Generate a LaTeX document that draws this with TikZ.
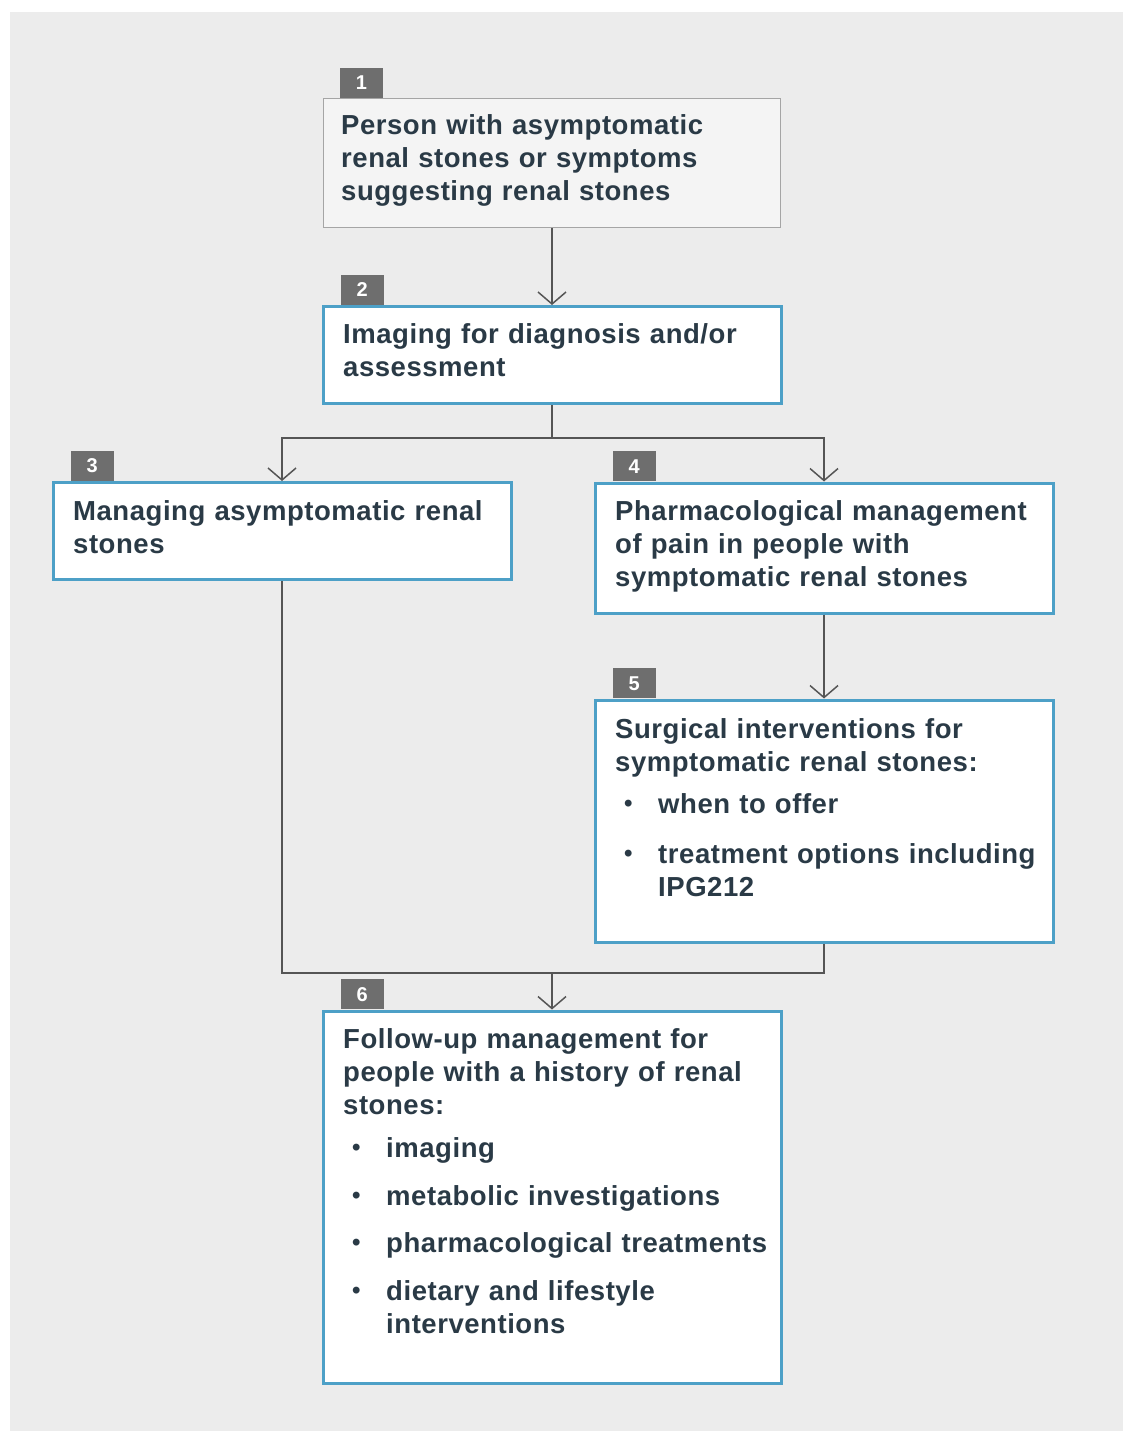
\documentclass[tikz,border=0pt]{standalone}
\usepackage{fontspec}
\usepackage{tikz}
\usepackage{xcolor}
\usetikzlibrary{arrows.meta,positioning}
\setmainfont{Liberation Sans}[WordSpace=1.6,LetterSpace=2.0]

\definecolor{pagegray}{RGB}{236,236,236}
\definecolor{boxblue}{RGB}{77,160,199}
\definecolor{linegray}{RGB}{85,85,85}
\definecolor{badgegray}{RGB}{110,110,110}
\definecolor{textdark}{RGB}{42,58,70}
\definecolor{startfill}{RGB}{244,244,244}
\definecolor{startdraw}{RGB}{165,165,165}

\newcommand{\itm}{\makebox[43pt][l]{\hspace{9pt}\raisebox{2pt}{\fontsize{24}{24}\selectfont\textbullet}}}
\newcommand{\ind}{\hspace*{43pt}}

\begin{document}
\begin{tikzpicture}[x=1pt,y=-1pt]
	\useasboundingbox (0,0) rectangle (1123,1431);
	\fill[pagegray] (10,12) rectangle (1123,1431);
	\tikzstyle{box}=[draw=boxblue,line width=3pt,fill=white,inner sep=0pt]
	\tikzstyle{startbox}=[draw=startdraw,line width=1.5pt,fill=startfill,inner sep=0pt]
	\tikzstyle{badge}=[fill=badgegray,text=white,font=\fontsize{20}{20}\selectfont\bfseries,minimum width=43pt,minimum height=30pt,inner sep=0pt]
	\tikzstyle{txt}=[anchor=base west,text width=450pt,align=left,inner sep=0pt,text=textdark,font=\fontsize{27.5}{33}\selectfont\bfseries]
	\tikzstyle{link}=[draw=linegray,line width=1.5pt]
	\tikzstyle{arrow}=[link,-{Straight Barb[length=12pt,width=28pt]}]

	% boxes
	\node[startbox,minimum width=457pt,minimum height=129pt] (b1) at (552,163) {};
	\node[box,minimum width=458pt,minimum height=97pt] (b2) at (552,355) {};
	\node[box,minimum width=458pt,minimum height=97pt] (b3) at (282,531) {};
	\node[box,minimum width=458pt,minimum height=130pt] (b4) at (824,548) {};
	\node[box,minimum width=458pt,minimum height=242pt] (b5) at (824,821) {};
	\node[box,minimum width=458pt,minimum height=372pt] (b6) at (552,1197) {};

	% numbers
	\node[badge,above right=0pt and 17pt of b1.north west] (n1) {1};
	\node[badge,above right=0pt and 19pt of b2.north west] (n2) {2};
	\node[badge,above right=0pt and 19pt of b3.north west] (n3) {3};
	\node[badge,above right=0pt and 19pt of b4.north west] (n4) {4};
	\node[badge,above right=0pt and 19pt of b5.north west] (n5) {5};
	\node[badge,above right=0pt and 19pt of b6.north west] (n6) {6};

	% texts
	\node[txt] (t1) at (341,135) {Person with asymptomatic\\renal stones or symptoms\\suggesting renal stones};
	\node[txt] (t2) at (343,343) {Imaging for diagnosis and/or\\assessment};
	\node[txt] (t3) at (73,520) {Managing asymptomatic renal\\stones};
	\node[txt] (t4) at (615,520) {Pharmacological management\\of pain in people with\\symptomatic renal stones};
	\node[txt] (t5) at (615,738) {Surgical interventions for\\symptomatic renal stones:\\[9pt]\itm when to offer\\[17pt]\itm treatment options including\\\ind IPG212};
	\node[txt] (t6) at (343,1048) {Follow-up management for\\people with a history of renal\\stones:\\[10pt]\itm imaging\\[15pt]\itm metabolic investigations\\[14pt]\itm pharmacological treatments\\[15pt]\itm dietary and lifestyle\\\ind interventions};

	% connectors
	\coordinate (split) at (552,438);
	\coordinate (merge) at (552,973);
	\draw[arrow] (b1.south) -- (b2.north);
	\draw[link] (b2.south) -- (split);
	\draw[arrow] (split) -| (b3.north);
	\draw[arrow] (split) -| (b4.north);
	\draw[arrow] (b4.south) -- (b5.north);
	\draw[link] (b3.south) |- (merge) -| (b5.south);
	\draw[arrow] (merge) -- (b6.north);
\end{tikzpicture}
\end{document}
